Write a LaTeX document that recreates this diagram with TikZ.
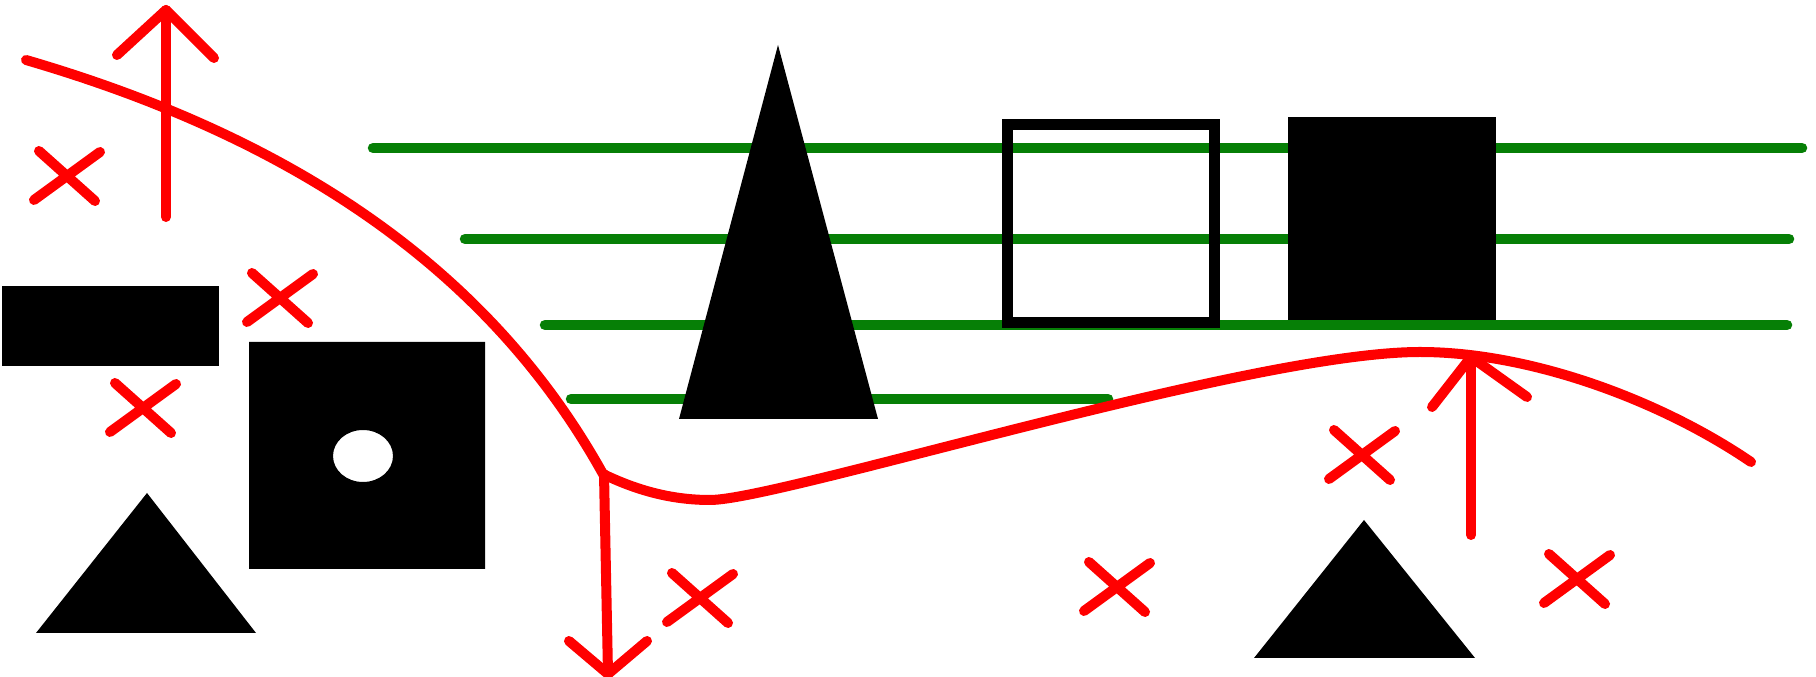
\documentclass[tikz,border=0pt]{standalone}
\usetikzlibrary{arrows.meta}
\definecolor{sketchred}{HTML}{FF0000}
\definecolor{railgreen}{HTML}{067F06}

\begin{document}
\begin{tikzpicture}[
  x=0.01cm, y=-0.01cm,
  redstroke/.style={draw=sketchred, line width=0.1cm, line cap=round, line join=round},
  rail/.style={draw=railgreen, line width=0.105cm, line cap=round},
  blackshape/.style={fill=black},
  xmark/.pic={\draw[redstroke] (-33,24) -- (33,-24) (-28,-25) -- (28,25);}
]

\fill[white] (0,0) rectangle (1816,677);
\useasboundingbox (0,0) rectangle (1816,677);

\draw[rail] (373,148) -- (1802,148);
\draw[rail] (465,239) -- (1789,239);
\draw[rail] (545,325) -- (1787,325);
\draw[rail] (571,399) -- (1108,399);

\fill[blackshape] (2,286) rectangle (219,366);
\fill[blackshape, even odd rule] (249,342) rectangle (485,569) (363,456) ellipse [x radius=30, y radius=26];
\fill[blackshape] (147,493) -- (256,633) -- (36,633) -- cycle;
\fill[blackshape] (778,45) -- (878,419) -- (679,419) -- cycle;
\draw[line width=0.11cm] (1007,125) rectangle (1214,323);
\fill[blackshape] (1288,117) rectangle (1496,320);
\fill[blackshape] (1364,520) -- (1475,658) -- (1254,658) -- cycle;

\draw[redstroke] (26,60) .. controls (276,133) and (483,258) .. (603,474)
  .. controls (640,492) and (675,500) .. (710,500)
  .. controls (780,500) and (1250,352) .. (1420,352)
  .. controls (1530,352) and (1660,400) .. (1751,462);

\coordinate (tipA) at (166,10);
\coordinate (tipB) at (608,674);
\coordinate (tipC) at (1471,357);
\draw[redstroke] (166,217) -- (tipA);
\draw[redstroke] (117,55) -- (tipA) -- (214,58);
\draw[redstroke] (604,474) -- (tipB);
\draw[redstroke] (569,641) -- (tipB) -- (647,641);
\draw[redstroke] (1471,535) -- (tipC);
\draw[redstroke] (1432,407) -- (tipC) -- (1527,397);

\pic at (67,176) {xmark};
\pic at (280,298) {xmark};
\pic at (143,408) {xmark};
\pic at (700,598) {xmark};
\pic at (1117,587) {xmark};
\pic at (1362,455) {xmark};
\pic at (1577,579) {xmark};

\end{tikzpicture}
\end{document}
